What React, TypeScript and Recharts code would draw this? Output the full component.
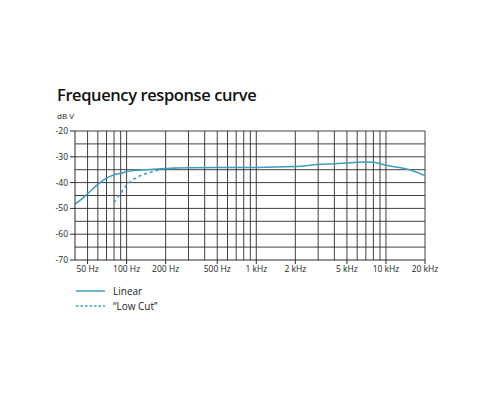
import React from "react";
import { LineChart, Line, XAxis, YAxis, ReferenceLine } from "recharts";

const linearFreq = [40, 45, 50, 60, 70, 80, 90, 100, 150, 200, 300, 500, 1000, 2000, 3000, 4000, 5000, 6000, 7000, 8000, 10000, 15000, 20000];
const linearDb = [-48.3, -46.4, -44.3, -40.7, -38.3, -37, -36.4, -35.8, -34.9, -34.5, -34.2, -34.1, -34.1, -33.8, -33, -32.7, -32.4, -32.1, -32, -32.1, -33.3, -34.9, -37.3];

const lowCutFreq = [80, 90, 100, 120, 150, 200, 250];
const lowCutDb = [-47.6, -44.2, -41, -38, -36.1, -34.7, -34.3];

const freqTicks = [50, 100, 200, 500, 1000, 2000, 5000, 10000, 20000];
const freqLabels = ["50 Hz", "100 Hz", "200 Hz", "500 Hz", "1 kHz", "2 kHz", "5 kHz", "10 kHz", "20 kHz"];
const freqGrid = [50, 60, 70, 80, 90, 100, 200, 300, 400, 500, 600, 700, 800, 900, 1000, 2000, 3000, 4000, 5000, 6000, 7000, 8000, 9000, 10000, 20000];

const dbTicks = [-70, -60, -50, -40, -30, -20];
const dbGrid = [-65, -60, -55, -50, -45, -40, -35, -30, -25, -20];

const linearData = linearFreq.map((f, i) => ({ f, db: linearDb[i] }));
const lowCutData = lowCutFreq.map((f, i) => ({ f, db: lowCutDb[i] }));

const COLOR = "#3b9dc0";
const GRID = "#2b2b2b";
const FONT = "'Open Sans', sans-serif";

function LegendBlock() {
  return (
    <div style={{ position: "absolute", left: 76, top: 283, fontFamily: FONT, fontSize: 10, color: "#222" }}>
      <div style={{ display: "flex", alignItems: "center", height: 15 }}>
        <svg width={37} height={6}>
          <line x1={0} y1={3} x2={29} y2={3} stroke={COLOR} strokeWidth={1.5} />
        </svg>
        <span>Linear</span>
      </div>
      <div style={{ display: "flex", alignItems: "center", height: 15 }}>
        <svg width={37} height={6}>
          <line x1={0} y1={3} x2={29} y2={3} stroke={COLOR} strokeWidth={1.5} strokeDasharray="2.5 2" />
        </svg>
        <span>“Low Cut”</span>
      </div>
    </div>
  );
}

export default function App() {
  return (
    <div style={{ position: "absolute", left: 0, top: 0, width: 500, height: 400, background: "#fff" }}>
      <div style={{ position: "absolute", left: 57, top: 83, fontFamily: FONT, fontSize: 16.5, fontWeight: 600, color: "#111", letterSpacing: -0.4 }}>
        Frequency response curve
      </div>
      <div style={{ position: "absolute", left: 57, top: 110, fontFamily: FONT, fontSize: 8, color: "#222" }}>
        dB V
      </div>
      <LineChart width={500} height={400} margin={{ top: 131, right: 75, bottom: 120, left: 50 }}>
        {freqGrid.map((v) => (
          <ReferenceLine key={"v" + v} x={v} stroke={GRID} strokeWidth={0.9} />
        ))}
        {dbGrid.map((v) => (
          <ReferenceLine key={"h" + v} y={v} stroke={GRID} strokeWidth={0.9} />
        ))}
        <XAxis
          type="number"
          dataKey="f"
          scale="log"
          domain={[40, 20000]}
          ticks={freqTicks}
          tickFormatter={(v) => freqLabels[freqTicks.indexOf(v)]}
          allowDataOverflow
          height={20}
          stroke={GRID}
          tickSize={4}
          tick={{ fontSize: 8.5, fill: "#222", fontFamily: FONT }}
        />
        <YAxis
          type="number"
          dataKey="db"
          domain={[-70, -20]}
          ticks={dbTicks}
          allowDataOverflow
          width={25}
          stroke={GRID}
          tickSize={5}
          tick={{ fontSize: 8.5, fill: "#222", fontFamily: FONT }}
        />
        <Line
          data={linearData}
          dataKey="db"
          type="monotone"
          stroke={COLOR}
          strokeWidth={1.5}
          dot={false}
          isAnimationActive={false}
        />
        <Line
          data={lowCutData}
          dataKey="db"
          type="monotone"
          stroke={COLOR}
          strokeWidth={1.5}
          strokeDasharray="3 3"
          dot={false}
          isAnimationActive={false}
        />
      </LineChart>
      <LegendBlock />
    </div>
  );
}
